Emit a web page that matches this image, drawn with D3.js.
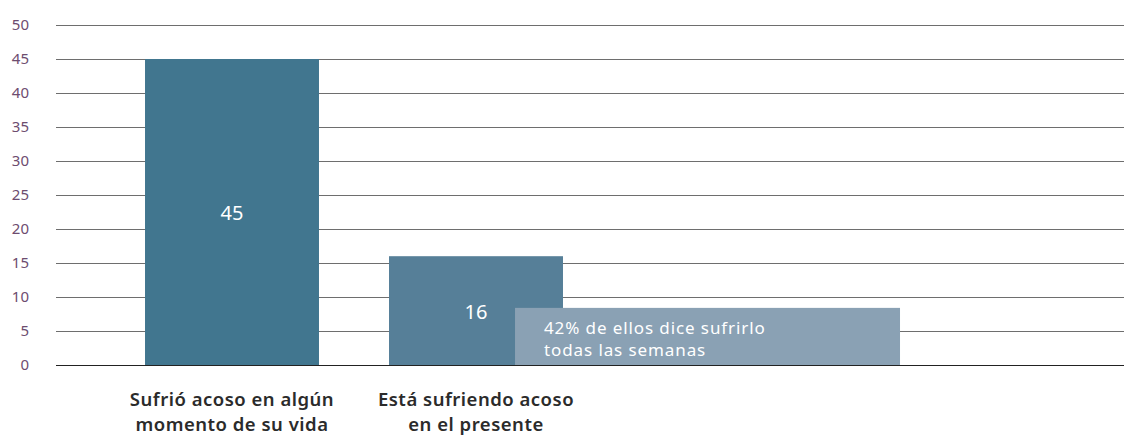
<!DOCTYPE html>
<html>
<head>
<meta charset="utf-8">
<script src="https://cdn.jsdelivr.net/npm/d3@7"></script>
<style>
  body { margin: 0; background: #fff; }
  svg { display: block; font-family: "Noto Sans", "Open Sans", sans-serif; }
</style>
</head>
<body>
<div id="chart"></div>
<script>
const categories = [
  ["Sufrió acoso en algún", "momento de su vida"],
  ["Está sufriendo acoso", "en el presente"]
];
const values = [45, 16];
const barColors = ["#41768f", "#567f98"];
const yTicks = [0, 5, 10, 15, 20, 25, 30, 35, 40, 45, 50];
const noteLines = ["42% de ellos dice sufrirlo", "todas las semanas"];
const noteTop = 8.4;

const width = 1126, height = 438;

const svg = d3.select("#chart")
  .append("svg")
  .attr("width", width)
  .attr("height", height);

const y = d3.scaleLinear().domain([0, 50]).range([365, 25]);
const x = d3.scaleBand()
  .domain(d3.range(values.length))
  .range([110, 598])
  .paddingInner(0.287)
  .paddingOuter(0.1435);

// grid lines
svg.append("g")
  .selectAll("line")
  .data(yTicks)
  .enter()
  .append("line")
  .attr("x1", 56)
  .attr("x2", 1124)
  .attr("y1", d => Math.round(y(d)) + 0.5)
  .attr("y2", d => Math.round(y(d)) + 0.5)
  .attr("stroke", d => d === 0 ? "#222" : "#6e6e6e")
  .attr("stroke-width", 1);

// y tick labels
svg.append("g")
  .selectAll("text")
  .data(yTicks)
  .enter()
  .append("text")
  .attr("x", 29)
  .attr("y", d => y(d))
  .attr("dy", "0.35em")
  .attr("text-anchor", "end")
  .attr("fill", "#6d4c6f")
  .attr("font-size", 15)
  .text(d => d);

// bars
svg.append("g")
  .selectAll("rect")
  .data(values)
  .enter()
  .append("rect")
  .attr("x", (d, i) => x(i))
  .attr("y", d => y(d))
  .attr("width", x.bandwidth())
  .attr("height", d => y(0) - y(d))
  .attr("fill", (d, i) => barColors[i]);

// value labels
svg.append("g")
  .selectAll("text")
  .data(values)
  .enter()
  .append("text")
  .attr("x", (d, i) => x(i) + x.bandwidth() / 2)
  .attr("y", d => (y(d) + y(0)) / 2 + 1)
  .attr("dy", "0.35em")
  .attr("text-anchor", "middle")
  .attr("fill", "#fff")
  .attr("font-size", 20)
  .text(d => d);

// note box over second bar
const noteX = x(1) + 126;
svg.append("rect")
  .attr("x", noteX)
  .attr("y", y(noteTop))
  .attr("width", 385)
  .attr("height", y(0) - y(noteTop))
  .attr("fill", "#8aa1b4");

svg.append("text")
  .attr("x", noteX + 29)
  .attr("y", y(noteTop) + 26)
  .attr("fill", "#fff")
  .attr("font-size", 17)
  .attr("letter-spacing", 0.9)
  .selectAll("tspan")
  .data(noteLines)
  .enter()
  .append("tspan")
  .attr("x", noteX + 29)
  .attr("dy", (d, i) => i === 0 ? 0 : 22)
  .text(d => d);

// category labels
svg.append("g")
  .selectAll("text")
  .data(categories)
  .enter()
  .append("text")
  .attr("x", (d, i) => x(i) + x.bandwidth() / 2)
  .attr("y", 406)
  .attr("text-anchor", "middle")
  .attr("fill", "#2b2b2b")
  .attr("font-size", 18.5)
  .attr("font-weight", 600)
  .attr("letter-spacing", 0.5)
  .selectAll("tspan")
  .data(d => d)
  .enter()
  .append("tspan")
  .attr("x", function() { return d3.select(this.parentNode).attr("x"); })
  .attr("dy", (d, i) => i === 0 ? 0 : 25)
  .text(d => d);
</script>
</body>
</html>
